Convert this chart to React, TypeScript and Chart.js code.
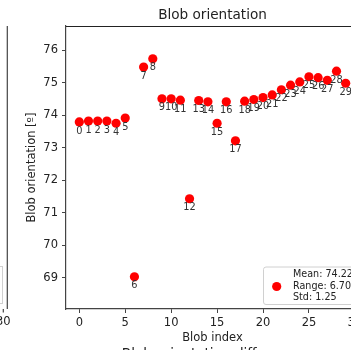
import React, { useEffect, useRef } from 'react';
import { Chart, registerables } from 'chart.js';

Chart.register(...registerables);

const blobIndex = [0, 1, 2, 3, 4, 5, 6, 7, 8, 9, 10, 11, 12, 13, 14, 15, 16, 17, 18, 19, 20, 21, 22, 23, 24, 25, 26, 27, 28, 29];
const orientation = [73.79, 73.82, 73.82, 73.82, 73.75, 73.91, 69.03, 75.48, 75.73, 74.5, 74.5, 74.46, 71.43, 74.45, 74.41, 73.75, 74.41, 73.21, 74.43, 74.48, 74.54, 74.62, 74.78, 74.92, 75.02, 75.18, 75.15, 75.07, 75.35, 74.98];
const pointLabels = blobIndex.map((i) => String(i));
const xTicks = [0, 5, 10, 15, 20, 25, 30];
const yTicks = [69, 70, 71, 72, 73, 74, 75, 76];
const legendLines = ['Mean: 74.22', 'Range: 6.70', 'Std: 1.25'];
const titleText = 'Blob orientation';
const nextTitleText = 'Blob orientation difference';
const xTitle = 'Blob index';
const yTitle = 'Blob orientation [º]';

const FONT = '"DejaVu Sans", sans-serif';
const TEXT = '#222';

const extras = {
  id: 'extras',
  afterDatasetsDraw(chart: any) {
    const { ctx, chartArea } = chart;
    const { left, right, top, bottom } = chartArea;
    ctx.save();
    // point index labels
    const meta = chart.getDatasetMeta(0);
    ctx.font = `9.8px ${FONT}`;
    ctx.fillStyle = '#333';
    ctx.textAlign = 'center';
    ctx.textBaseline = 'middle';
    meta.data.forEach((pt: any, i: number) => {
      ctx.fillText(pointLabels[i], pt.x, pt.y + 9);
    });
    // top & right spines
    ctx.strokeStyle = '#222';
    ctx.lineWidth = 1;
    ctx.beginPath();
    ctx.moveTo(left, top + 0.5);
    ctx.lineTo(right, top + 0.5);
    ctx.moveTo(right, top);
    ctx.lineTo(right, bottom);
    ctx.stroke();
    // title
    ctx.fillStyle = TEXT;
    ctx.font = `13.6px ${FONT}`;
    ctx.textAlign = 'center';
    ctx.textBaseline = 'middle';
    ctx.fillText(titleText, (left + right) / 2, 15);
    // next subplot title (clipped)
    ctx.textBaseline = 'top';
    ctx.fillText(nextTitleText, (left + right) / 2, 347.5);
    // legend
    const bx = 263, by = 266.5, bw = 92, bh = 37.5;
    ctx.beginPath();
    (ctx as any).roundRect(bx + 0.5, by + 0.5, bw, bh, 2.5);
    ctx.fillStyle = 'rgba(255,255,255,0.85)';
    ctx.fill();
    ctx.strokeStyle = '#d0d0d0';
    ctx.stroke();
    ctx.fillStyle = chart.data.datasets[0].backgroundColor;
    ctx.beginPath();
    ctx.arc(276.7, 286.5, 4.6, 0, Math.PI * 2);
    ctx.fill();
    ctx.fillStyle = TEXT;
    ctx.font = `9.6px ${FONT}`;
    ctx.textAlign = 'left';
    ctx.textBaseline = 'middle';
    legendLines.forEach((t, i) => ctx.fillText(t, 293, 274.5 + i * 11.5));
    // neighbouring subplot remnant on the left
    ctx.strokeStyle = '#444';
    ctx.lineWidth = 1.2;
    ctx.beginPath();
    ctx.moveTo(7.3, top);
    ctx.lineTo(7.3, bottom);
    ctx.moveTo(3.3, bottom);
    ctx.lineTo(3.3, bottom + 3.5);
    ctx.stroke();
    ctx.strokeStyle = '#d0d0d0';
    ctx.lineWidth = 1;
    ctx.strokeRect(-80.5, 266.5, 83, 37);
    ctx.fillStyle = TEXT;
    ctx.font = `11.5px ${FONT}`;
    ctx.textAlign = 'center';
    ctx.textBaseline = 'middle';
    ctx.fillText('30', 3.3, 322.5);
    ctx.restore();
  },
};

export default function App() {
  const ref = useRef<HTMLCanvasElement>(null);
  useEffect(() => {
    if (!ref.current) return;
    const chart = new Chart(ref.current, {
      type: 'scatter',
      data: {
        datasets: [
          {
            data: blobIndex.map((x, i) => ({ x, y: orientation[i] })),
            backgroundColor: '#ff0000',
            borderWidth: 0,
            pointRadius: 4.6,
            pointHoverRadius: 4.6,
          },
        ],
      },
      options: {
        animation: false,
        responsive: false,
        devicePixelRatio: 1,
        layout: { padding: { left: 0, right: 21, top: 26, bottom: 0 } },
        plugins: { legend: { display: false }, title: { display: false }, tooltip: { enabled: false } },
        scales: {
          x: {
            type: 'linear',
            min: -1.45,
            max: 30.45,
            afterFit: (s: any) => { s.height = 51; },
            afterBuildTicks: (s: any) => { s.ticks = xTicks.map((v) => ({ value: v })); },
            grid: { drawOnChartArea: false, drawTicks: true, tickLength: 4, color: '#444', lineWidth: 1 },
            border: { display: true, color: '#444', width: 1.2 },
            ticks: { padding: 3, color: TEXT, font: { family: FONT, size: 11.5 }, maxRotation: 0, autoSkip: false },
            title: { display: true, text: xTitle, color: TEXT, font: { family: FONT, size: 11.5 }, padding: { top: 0, bottom: 15 } },
          },
          y: {
            type: 'linear',
            min: 68.04,
            max: 76.74,
            afterFit: (s: any) => { s.width = 66; },
            afterBuildTicks: (s: any) => { s.ticks = yTicks.map((v) => ({ value: v })); },
            grid: { drawOnChartArea: false, drawTicks: true, tickLength: 4, color: '#444', lineWidth: 1 },
            border: { display: true, color: '#444', width: 1.2 },
            ticks: { padding: 4, color: TEXT, font: { family: FONT, size: 11.5 }, autoSkip: false },
            title: { display: true, text: yTitle, color: TEXT, font: { family: FONT, size: 11.5 }, padding: { top: 25, bottom: 0 } },
          },
        },
      },
      plugins: [extras],
    });
    return () => chart.destroy();
  }, []);
  return (
    <div style={{ position: 'fixed', left: 0, top: 0, width: 351, height: 350, overflow: 'hidden', background: '#fff' }}>
      <canvas ref={ref} width={380} height={360} style={{ width: 380, height: 360, display: 'block' }} />
    </div>
  );
}
